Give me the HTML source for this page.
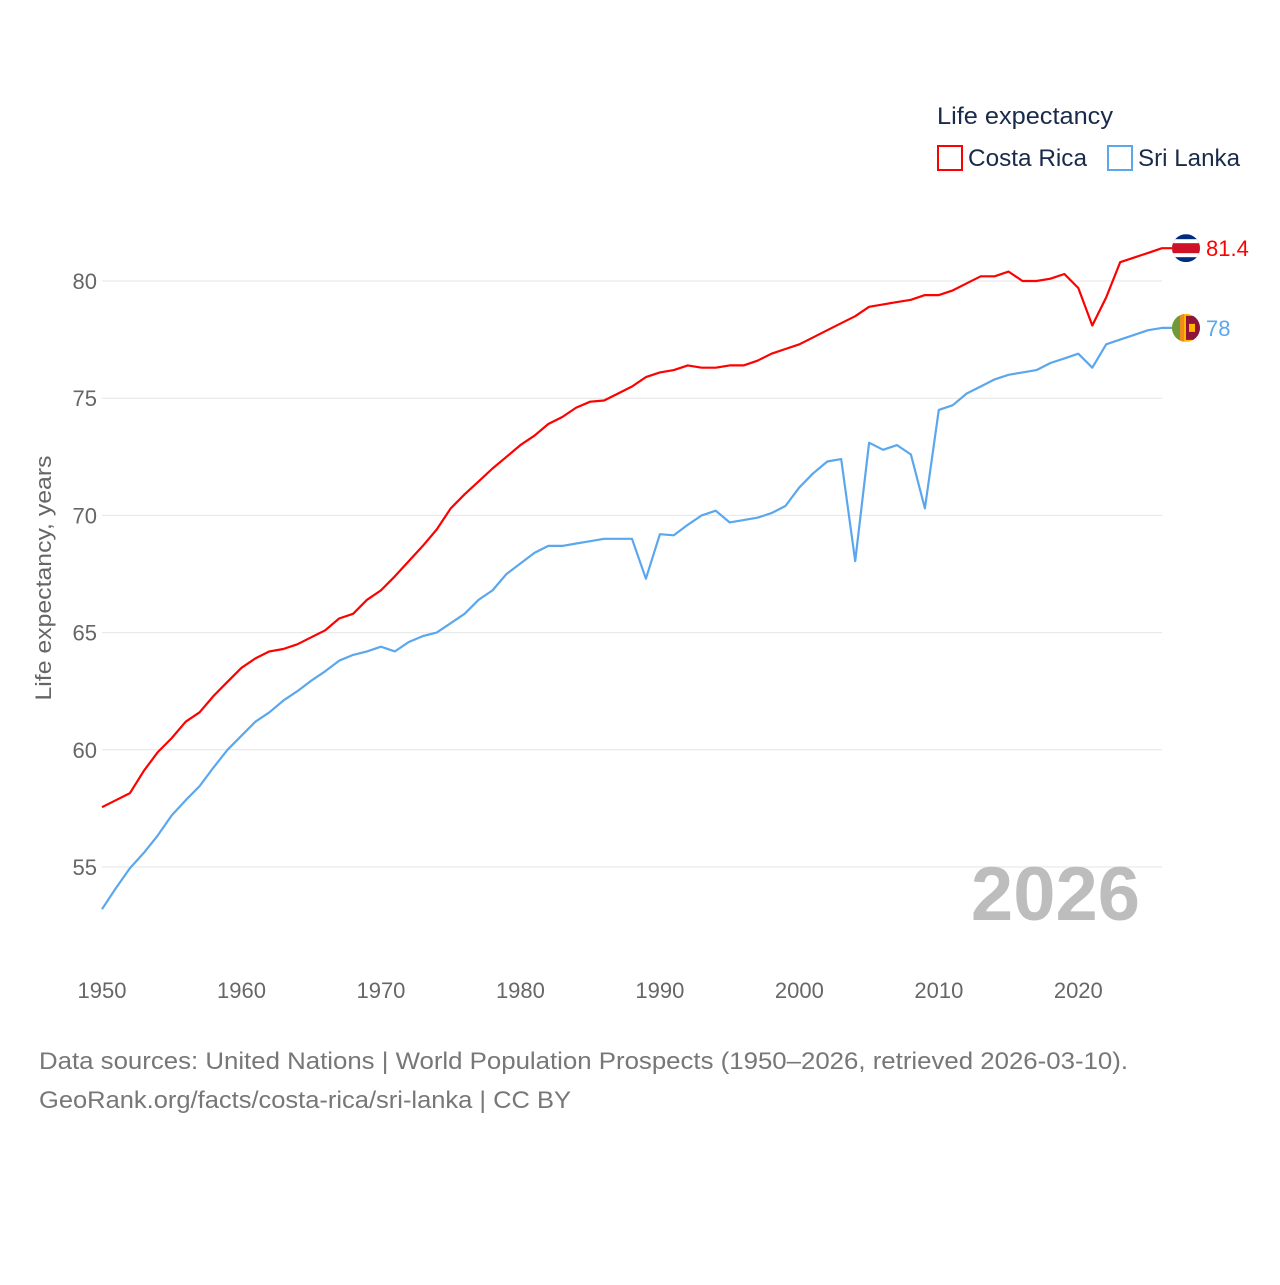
<!DOCTYPE html>
<html><head><meta charset="utf-8"><style>
body{margin:0;background:#fff;font-family:"Liberation Sans",sans-serif}
svg text{font-family:"Liberation Sans",sans-serif}
</style></head><body>
<svg id="chart" width="1280" height="1280" xmlns="http://www.w3.org/2000/svg">
<g id="grid"></g>
<g id="yticks"></g>
<g id="xticks"></g>
<text transform="translate(51,578) rotate(-90)" text-anchor="middle" font-size="22" fill="#666" textLength="245" lengthAdjust="spacingAndGlyphs">Life expectancy, years</text>
<text x="1140" y="920" text-anchor="end" font-size="76" font-weight="bold" fill="#bdbdbd">2026</text>
<g id="lines"></g>
<g>
<text x="937" y="124" font-size="24" fill="#1a2a4a" textLength="176" lengthAdjust="spacingAndGlyphs">Life expectancy</text>
<rect x="938" y="146" width="24" height="24" fill="none" stroke="#ff0000" stroke-width="2"/>
<text x="968" y="166" font-size="24" fill="#1a2a4a" textLength="119" lengthAdjust="spacingAndGlyphs">Costa Rica</text>
<rect x="1108" y="146" width="24" height="24" fill="none" stroke="#5ba7ee" stroke-width="2"/>
<text x="1138" y="166" font-size="24" fill="#1a2a4a" textLength="102" lengthAdjust="spacingAndGlyphs">Sri Lanka</text>
</g>
<g id="ends"></g>
<text x="39" y="1069" font-size="24" fill="#777" textLength="1089" lengthAdjust="spacingAndGlyphs">Data sources: United Nations | World Population Prospects (1950–2026, retrieved 2026-03-10).</text>
<text x="39" y="1108" font-size="24" fill="#777" textLength="532" lengthAdjust="spacingAndGlyphs">GeoRank.org/facts/costa-rica/sri-lanka | CC BY</text>
</svg>
<script>
const startYear = 1950;
const costaRica = [57.55,57.85,58.15,59.1,59.9,60.5,61.2,61.6,62.3,62.9,63.5,63.9,64.2,64.3,64.5,64.8,65.1,65.6,65.8,66.4,66.8,67.4,68.05,68.7,69.4,70.3,70.9,71.45,72.0,72.5,73.0,73.4,73.9,74.2,74.6,74.85,74.9,75.2,75.5,75.9,76.1,76.2,76.4,76.3,76.3,76.4,76.4,76.6,76.9,77.1,77.3,77.6,77.9,78.2,78.5,78.9,79.0,79.1,79.2,79.4,79.4,79.6,79.9,80.2,80.2,80.4,80.0,80.0,80.1,80.3,79.7,78.1,79.3,80.8,81.0,81.2,81.4];
const sriLanka = [53.2,54.1,54.95,55.6,56.35,57.2,57.85,58.45,59.25,60.0,60.6,61.2,61.6,62.1,62.5,62.95,63.35,63.8,64.05,64.2,64.4,64.2,64.6,64.85,65.0,65.4,65.8,66.4,66.8,67.5,67.95,68.4,68.7,68.7,68.8,68.9,69.0,69.0,69.0,67.3,69.2,69.15,69.6,70.0,70.2,69.7,69.8,69.9,70.1,70.4,71.2,71.8,72.3,72.4,68.05,73.1,72.8,73.0,72.6,70.3,74.5,74.7,75.2,75.5,75.8,76.0,76.1,76.2,76.5,76.7,76.9,76.3,77.3,77.5,77.7,77.9,78.0];
const yTicks = [55,60,65,70,75,80];
const xTicks = [1950,1960,1970,1980,1990,2000,2010,2020];
const endLabels = ["81.4","78"];

const NS="http://www.w3.org/2000/svg";
const X = yr => 102 + (yr-1950)*(1162-102)/76;
const Y = v => 281 + (80-v)*(867-281)/25;
function mk(tag, attrs, parent){const e=document.createElementNS(NS,tag);for(const k in attrs)e.setAttribute(k,attrs[k]);parent.appendChild(e);return e;}
const grid=document.getElementById('grid'), yt=document.getElementById('yticks'), xt=document.getElementById('xticks');
yTicks.forEach(v=>{
  const l=mk('line',{x1:102,x2:1162,y1:Y(v),y2:Y(v),stroke:'#e6e6e6','stroke-width':1},grid);
  
  
  const t=mk('text',{x:97,y:Y(v)+8,'text-anchor':'end','font-size':22,fill:'#666'},yt);
  t.textContent=v;
  
  
});
xTicks.forEach(yr=>{
  const t=mk('text',{x:X(yr),y:998,'text-anchor':'middle','font-size':22,fill:'#666'},xt);
  t.textContent=yr;
  
  
});
const lines=document.getElementById('lines');
function drawLine(arr,color,name){
  let d=arr.map((v,i)=>(i?'L':'M')+X(startYear+i).toFixed(1)+','+Y(v).toFixed(1)).join('');
  d+='L1175,'+Y(arr[arr.length-1]).toFixed(1);
  const p=mk('path',{d:d,fill:'none',stroke:color,'stroke-width':2.2,'stroke-linejoin':'round'},lines);
  
  
}
drawLine(costaRica,'#ff0000','costa-rica-line');
drawLine(sriLanka,'#5ba7ee','sri-lanka-line');
const ends=document.getElementById('ends');
// Costa Rica flag
const cy1=Y(costaRica[costaRica.length-1]);
const g1=mk('g',{},ends);


const cp1=mk('clipPath',{id:'c1'},g1);mk('circle',{cx:1186,cy:cy1,r:14},cp1);
const f1=mk('g',{'clip-path':'url(#c1)'},g1);
mk('rect',{x:1172,y:cy1-14,width:28,height:28,fill:'#002b7f'},f1);
mk('rect',{x:1172,y:cy1-9,width:28,height:18,fill:'#fff'},f1);
mk('rect',{x:1172,y:cy1-5,width:28,height:10,fill:'#ce1126'},f1);
const t1=mk('text',{x:1206,y:cy1+8,'font-size':22,fill:'#ff0000'},ends);
t1.textContent=endLabels[0];


// Sri Lanka flag
const cy2=Y(sriLanka[sriLanka.length-1]);
const g2=mk('g',{},ends);


const cp2=mk('clipPath',{id:'c2'},g2);mk('circle',{cx:1186,cy:cy2,r:14},cp2);
const f2=mk('g',{'clip-path':'url(#c2)'},g2);
mk('rect',{x:1172,y:cy2-14,width:28,height:28,fill:'#ffb700'},f2);
mk('rect',{x:1172,y:cy2-14,width:8,height:28,fill:'#6f9a3a'},f2);
mk('rect',{x:1180,y:cy2-14,width:4,height:28,fill:'#f08a1c'},f2);
mk('rect',{x:1186,y:cy2-12,width:14,height:24,fill:'#8d153a'},f2);
mk('rect',{x:1189,y:cy2-4,width:6,height:8,fill:'#ffb700'},f2);
const t2=mk('text',{x:1206,y:cy2+8,'font-size':22,fill:'#5ba7ee'},ends);
t2.textContent=endLabels[1];


</script>
</body></html>
